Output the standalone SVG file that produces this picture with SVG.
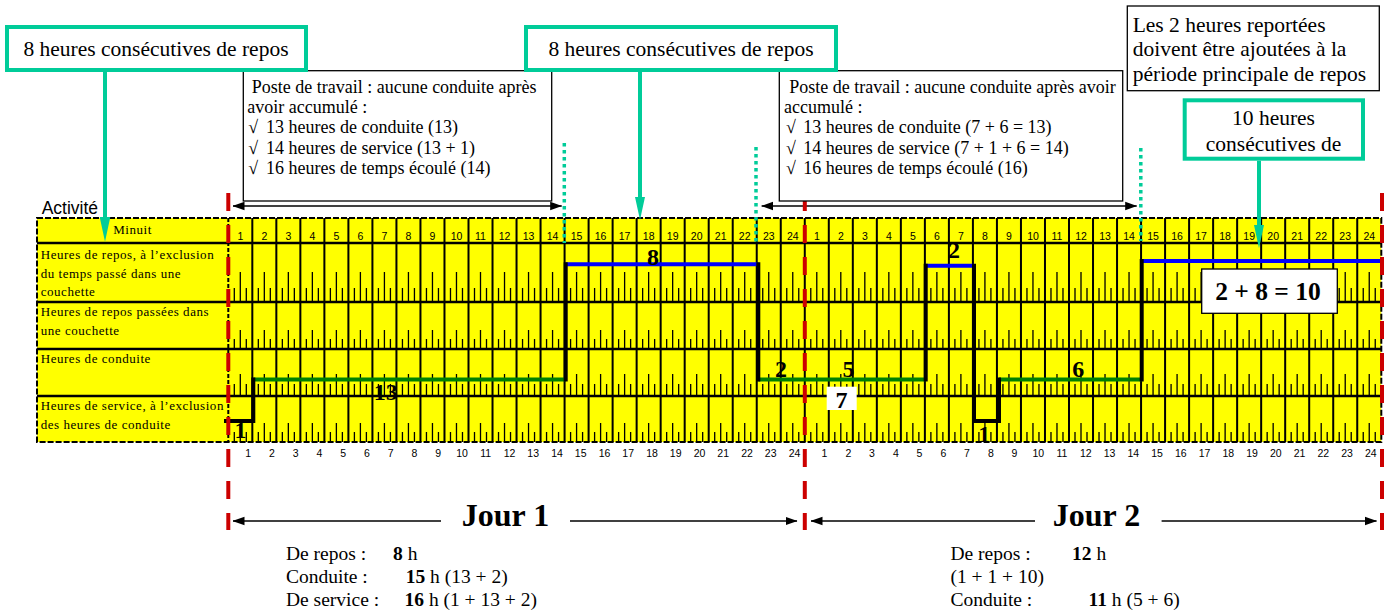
<svg xmlns="http://www.w3.org/2000/svg" width="1389" height="613" viewBox="0 0 1389 613">
<defs>
<style>
.serif{font-family:"Liberation Serif","Times New Roman",serif;fill:#000}
.lbl{font-size:13px;letter-spacing:0.55px}
.hn{font-family:"Liberation Sans",Arial,sans-serif;font-size:10.5px;text-anchor:middle;fill:#000}
.b18{font-size:18px}
.t21{font-size:21.5px}
.mid{text-anchor:middle}
.num{font-size:24px;font-weight:bold;text-anchor:middle}
.jour{font-size:32px;font-weight:bold;text-anchor:middle}
.sum{font-size:19.5px}
.tealbox{fill:#fff;stroke:#00CC99;stroke-width:4}
.blkbox{fill:#fff;stroke:#000;stroke-width:1.3}
.teal{stroke:#00CC99;stroke-width:4;fill:none}
.tealhead{fill:#00CC99}
.tealdot{stroke:#00CC99;stroke-width:3.5;stroke-dasharray:3.5 3.5;fill:none}
.red{stroke:#CC0000;stroke-width:4;stroke-dasharray:18 14;fill:none}
.grn{stroke:#008000;stroke-width:4;fill:none}
.blu{stroke:#0000FF;stroke-width:4;fill:none}
.blk{stroke:#000;stroke-width:4;fill:none}
.thin{stroke:#000;stroke-width:1.5;fill:none}
</style>
<marker id="ah" markerUnits="userSpaceOnUse" markerWidth="12" markerHeight="10" refX="11.5" refY="5" orient="auto-start-reverse"><path d="M0,0.8 L12,5 L0,9.2 z" fill="#000"/></marker>
<g id="col"><path d="M6 288V302M12 272V302M18 288V302M6 339V349M12 330V349M18 339V349M6 384V396M12 374V396M18 384V396M6 432V442M12 423V442M18 432V442" stroke="#000" stroke-width="1.3"/></g>
</defs>
<rect x="0" y="0" width="1389" height="613" fill="#fff"/>

<g id="table">
<rect x="37" y="218" width="1344.3" height="224" fill="#FFFF00"/>
<use href="#col" x="228.3"/><use href="#col" x="252.32"/><use href="#col" x="276.34"/><use href="#col" x="300.36"/><use href="#col" x="324.38"/><use href="#col" x="348.4"/><use href="#col" x="372.42"/><use href="#col" x="396.44"/><use href="#col" x="420.46"/><use href="#col" x="444.48"/><use href="#col" x="468.5"/><use href="#col" x="492.52"/><use href="#col" x="516.54"/><use href="#col" x="540.56"/><use href="#col" x="564.58"/><use href="#col" x="588.6"/><use href="#col" x="612.62"/><use href="#col" x="636.64"/><use href="#col" x="660.66"/><use href="#col" x="684.68"/><use href="#col" x="708.7"/><use href="#col" x="732.72"/><use href="#col" x="756.74"/><use href="#col" x="780.76"/>
<use href="#col" x="804.78"/><use href="#col" x="828.8"/><use href="#col" x="852.82"/><use href="#col" x="876.84"/><use href="#col" x="900.86"/><use href="#col" x="924.88"/><use href="#col" x="948.9"/><use href="#col" x="972.92"/><use href="#col" x="996.94"/><use href="#col" x="1020.96"/><use href="#col" x="1044.98"/><use href="#col" x="1069"/><use href="#col" x="1093.02"/><use href="#col" x="1117.04"/><use href="#col" x="1141.06"/><use href="#col" x="1165.08"/><use href="#col" x="1189.1"/><use href="#col" x="1213.12"/><use href="#col" x="1237.14"/><use href="#col" x="1261.16"/><use href="#col" x="1285.18"/><use href="#col" x="1309.2"/><use href="#col" x="1333.22"/><use href="#col" x="1357.24"/>
<path d="M252.32 218V442M276.34 218V442M300.36 218V442M324.38 218V442M348.4 218V442M372.42 218V442M396.44 218V442M420.46 218V442M444.48 218V442M468.5 218V442M492.52 218V442M516.54 218V442M540.56 218V442M564.58 218V442M588.6 218V442M612.62 218V442M636.64 218V442M660.66 218V442M684.68 218V442M708.7 218V442M732.72 218V442M756.74 218V442M780.76 218V442M804.78 218V442M828.8 218V442M852.82 218V442M876.84 218V442M900.86 218V442M924.88 218V442M948.9 218V442M972.92 218V442M996.94 218V442M1020.96 218V442M1044.98 218V442M1069 218V442M1093.02 218V442M1117.04 218V442M1141.06 218V442M1165.08 218V442M1189.1 218V442M1213.12 218V442M1237.14 218V442M1261.16 218V442M1285.18 218V442M1309.2 218V442M1333.22 218V442M1357.24 218V442" stroke="#000" stroke-width="2"/>
<path d="M37 243H1381.3M37 302H1381.3M37 349H1381.3M37 396H1381.3" stroke="#000" stroke-width="2.5"/>
<path d="M228.3 218V442" stroke="#000" stroke-width="2" stroke-dasharray="4 2"/>
<rect x="37" y="218" width="1344.3" height="224" fill="none" stroke="#000" stroke-width="2" stroke-dasharray="6 2"/>
<g class="serif lbl">
<text x="132.5" y="234" text-anchor="middle">Minuit</text>
<text x="40.7" y="259">Heures de repos, à l’exclusion</text>
<text x="40.7" y="277.5">du temps passé dans une</text>
<text x="40.7" y="296">couchette</text>
<text x="40.7" y="316">Heures de repos passées dans</text>
<text x="40.7" y="334.5">une couchette</text>
<text x="40.7" y="362.5">Heures de conduite</text>
<text x="40.7" y="410">Heures de service, à l’exclusion</text>
<text x="40.7" y="428.5">des heures de conduite</text>
</g>
<text class="hn" y="239.5"><tspan x="240.3">1</tspan><tspan x="264.3">2</tspan><tspan x="288.4">3</tspan><tspan x="312.4">4</tspan><tspan x="336.4">5</tspan><tspan x="360.4">6</tspan><tspan x="384.4">7</tspan><tspan x="408.5">8</tspan><tspan x="432.5">9</tspan><tspan x="456.5">10</tspan><tspan x="480.5">11</tspan><tspan x="504.5">12</tspan><tspan x="528.6">13</tspan><tspan x="552.6">14</tspan><tspan x="576.6">15</tspan><tspan x="600.6">16</tspan><tspan x="624.6">17</tspan><tspan x="648.7">18</tspan><tspan x="672.7">19</tspan><tspan x="696.7">20</tspan><tspan x="720.7">21</tspan><tspan x="744.7">22</tspan><tspan x="768.8">23</tspan><tspan x="792.8">24</tspan><tspan x="816.8">1</tspan><tspan x="840.8">2</tspan><tspan x="864.8">3</tspan><tspan x="888.9">4</tspan><tspan x="912.9">5</tspan><tspan x="936.9">6</tspan><tspan x="960.9">7</tspan><tspan x="984.9">8</tspan><tspan x="1009">9</tspan><tspan x="1033">10</tspan><tspan x="1057">11</tspan><tspan x="1081">12</tspan><tspan x="1105">13</tspan><tspan x="1129">14</tspan><tspan x="1153.1">15</tspan><tspan x="1177.1">16</tspan><tspan x="1201.1">17</tspan><tspan x="1225.1">18</tspan><tspan x="1249.2">19</tspan><tspan x="1273.2">20</tspan><tspan x="1297.2">21</tspan><tspan x="1321.2">22</tspan><tspan x="1345.2">23</tspan><tspan x="1369.3">24</tspan></text>
<text class="hn" y="457"><tspan x="248.2">1</tspan><tspan x="272">2</tspan><tspan x="295.7">3</tspan><tspan x="319.5">4</tspan><tspan x="343.2">5</tspan><tspan x="367">6</tspan><tspan x="390.7">7</tspan><tspan x="414.5">8</tspan><tspan x="438.2">9</tspan><tspan x="462">10</tspan><tspan x="485.7">11</tspan><tspan x="509.5">12</tspan><tspan x="533.2">13</tspan><tspan x="557">14</tspan><tspan x="580.7">15</tspan><tspan x="604.5">16</tspan><tspan x="628.2">17</tspan><tspan x="652">18</tspan><tspan x="675.7">19</tspan><tspan x="699.5">20</tspan><tspan x="723.2">21</tspan><tspan x="747">22</tspan><tspan x="770.7">23</tspan><tspan x="794.5">24</tspan><tspan x="824.5">1</tspan><tspan x="848.3">2</tspan><tspan x="872">3</tspan><tspan x="895.8">4</tspan><tspan x="919.5">5</tspan><tspan x="943.3">6</tspan><tspan x="967">7</tspan><tspan x="990.8">8</tspan><tspan x="1014.5">9</tspan><tspan x="1038.3">10</tspan><tspan x="1062">11</tspan><tspan x="1085.8">12</tspan><tspan x="1109.5">13</tspan><tspan x="1133.3">14</tspan><tspan x="1157">15</tspan><tspan x="1180.8">16</tspan><tspan x="1204.5">17</tspan><tspan x="1228.3">18</tspan><tspan x="1252">19</tspan><tspan x="1275.8">20</tspan><tspan x="1299.5">21</tspan><tspan x="1323.3">22</tspan><tspan x="1347">23</tspan><tspan x="1370.8">24</tspan></text>
</g>

<text class="serif" x="41.7" y="213.5" style="font-family:'Liberation Sans',Arial,sans-serif;font-size:17.5px">Activité</text>

<g id="connectors">
<path class="grn" d="M253.3 379.5H565.7M758.3 379.5H925.7M999 379.5H1141.7"/>
<path class="blu" d="M565.7 264.3H758.3M925.7 265.7H974M1141.7 261H1381.3"/>
<path class="blk" d="M224 421H253.3V377.5M565.7 381.5V262.3M758.3 262.3V381.5M925.7 381.5V263.7M974 263.7V421H999V377.5M1141.7 381.5V259"/>
<path class="thin" d="M233 206H561.7" marker-start="url(#ah)" marker-end="url(#ah)"/>
<path class="thin" d="M761.7 206H1136.7" marker-start="url(#ah)" marker-end="url(#ah)"/>
<path class="thin" d="M441 521H233" marker-end="url(#ah)"/>
<path class="thin" d="M570 521H797" marker-end="url(#ah)"/>
<path class="thin" d="M1035 521H811" marker-end="url(#ah)"/>
<path class="thin" d="M1161.6 521H1376.5" marker-end="url(#ah)"/>
<path class="red" d="M228.3 193V530M804.8 193V530M1382 193V530"/>
<path class="tealdot" d="M564.3 143V243M756 147V243M1140.8 148V241"/>
<path class="teal" d="M105 72V220M640 72V199M1259 160.7V227"/>
<path class="tealhead" d="M99.7 217H110.3L105 241.7zM635 197H645L640 220zM1254 225H1264L1259 248.3z"/>
</g>

<g id="line-labels" class="serif">
<text class="num" x="653" y="265">8</text>
<text class="num" x="385.8" y="400">13</text>
<text class="num" x="240.5" y="437.5">1</text>
<text class="num" x="781" y="376.7">2</text>
<text class="num" x="848.5" y="376.7">5</text>
<rect x="826.7" y="386.7" width="30" height="23.3" fill="#fff"/>
<text class="num" x="841.5" y="408">7</text>
<text class="num" x="954" y="258.3">2</text>
<text class="num" x="984.3" y="441.5">1</text>
<text class="num" x="1078.3" y="376.7">6</text>
</g>

<g id="box-sum">
<rect x="1201.7" y="269" width="135.6" height="44.3" fill="#fff" stroke="#000" stroke-width="1.3"/>
<text class="serif" x="1268" y="300" text-anchor="middle" style="font-size:25.5px;font-weight:bold">2 + 8 = 10</text>
</g>

<g id="box-b">
<rect class="blkbox" x="243.3" y="70.7" width="308.4" height="130.3"/>
<text class="serif b18"><tspan x="251.7" y="92.5">Poste de travail : aucune conduite après</tspan><tspan x="247.3" y="112.8">avoir accumulé :</tspan><tspan x="248.3" y="133.3">√</tspan><tspan x="266" y="133.3">13 heures de conduite (13)</tspan><tspan x="248.3" y="153.6">√</tspan><tspan x="266" y="153.6">14 heures de service (13 + 1)</tspan><tspan x="248.3" y="174">√</tspan><tspan x="266" y="174">16 heures de temps écoulé (14)</tspan></text>
</g>

<g id="box-d">
<rect class="blkbox" x="779.3" y="70.7" width="343.4" height="130.3"/>
<text class="serif b18"><tspan x="789.3" y="92.5">Poste de travail : aucune conduite après avoir</tspan><tspan x="784" y="112.8">accumulé :</tspan><tspan x="786" y="133.3">√</tspan><tspan x="803.3" y="133.3">13 heures de conduite (7 + 6 = 13)</tspan><tspan x="786" y="153.6">√</tspan><tspan x="803.3" y="153.6">14 heures de service (7 + 1 + 6 = 14)</tspan><tspan x="786" y="174">√</tspan><tspan x="803.3" y="174">16 heures de temps écoulé (16)</tspan></text>
</g>

<g id="box-a">
<rect class="tealbox" x="7" y="27" width="299" height="43"/>
<text class="serif t21 mid" x="156" y="56">8 heures consécutives de repos</text>
</g>

<g id="box-c">
<rect class="tealbox" x="526" y="27" width="310" height="43"/>
<text class="serif t21 mid" x="681" y="56">8 heures consécutives de repos</text>
</g>

<g id="box-e">
<rect class="blkbox" x="1127.3" y="6" width="252" height="84.7"/>
<text class="serif t21"><tspan x="1132.7" y="31.5">Les 2 heures reportées</tspan><tspan x="1132.7" y="56">doivent être ajoutées à la</tspan><tspan x="1132.7" y="80.5">période principale de repos</tspan></text>
</g>

<g id="box-f">
<rect class="tealbox" x="1184.7" y="100.3" width="178.3" height="58.4"/>
<text class="serif t21 mid"><tspan x="1273.5" y="125.3">10 heures</tspan><tspan x="1273.5" y="151">consécutives de</tspan></text>
</g>

<g id="jour1">
<text class="serif jour" x="505.5" y="526">Jour 1</text>
<text class="serif sum" y="560"><tspan x="286">De repos :</tspan><tspan x="393" font-weight="bold">8</tspan><tspan> h</tspan></text>
<text class="serif sum" y="583"><tspan x="286">Conduite :</tspan><tspan x="405.7" font-weight="bold">15</tspan><tspan> h (13 + 2)</tspan></text>
<text class="serif sum" y="606"><tspan x="286">De service :</tspan><tspan x="404.5" font-weight="bold">16</tspan><tspan> h (1 + 13 + 2)</tspan></text>
</g>

<g id="jour2">
<text class="serif jour" x="1096.5" y="526">Jour 2</text>
<text class="serif sum" y="560"><tspan x="950.5">De repos :</tspan><tspan x="1072" font-weight="bold">12</tspan><tspan> h</tspan></text>
<text class="serif sum" y="583" x="950.5">(1 + 1 + 10)</text>
<text class="serif sum" y="606"><tspan x="950.5">Conduite :</tspan><tspan x="1088.5" font-weight="bold">11</tspan><tspan> h (5 + 6)</tspan></text>
</g>
</svg>
